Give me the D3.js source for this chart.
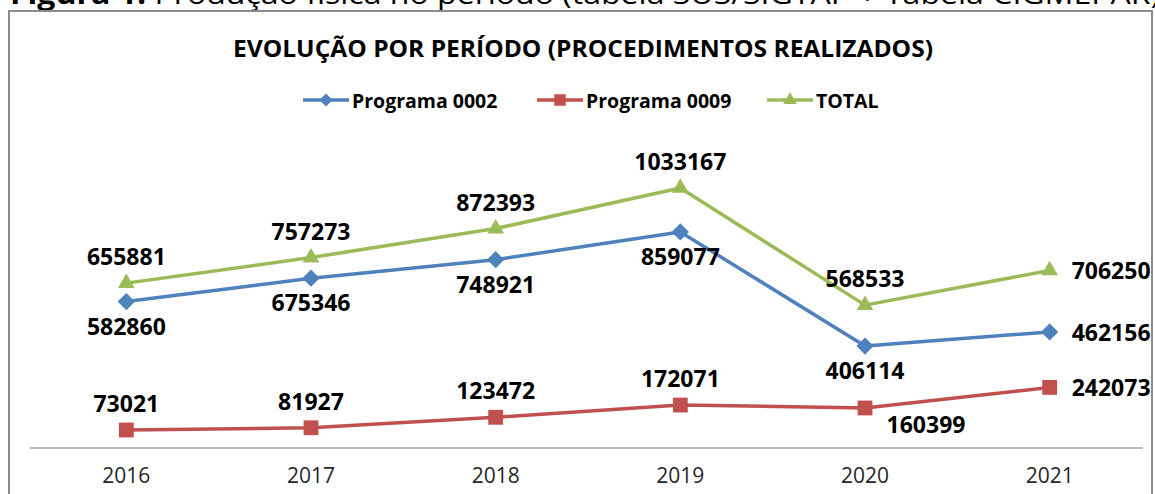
<!DOCTYPE html>
<html>
<head>
<meta charset="utf-8">
<script src="https://cdn.jsdelivr.net/npm/d3@7"></script>
<style>
  body { margin: 0; background: #fff; }
  svg { display: block; }
  text { font-family: "Open Sans", sans-serif; }
</style>
</head>
<body>
<svg id="chart"></svg>
<script>
// Values
const years = ['2016', '2017', '2018', '2019', '2020', '2021'];
const programa0002 = [582860, 675346, 748921, 859077, 406114, 462156];
const programa0009 = [73021, 81927, 123472, 172071, 160399, 242073];
const total = [655881, 757273, 872393, 1033167, 568533, 706250];
const seriesNames = ['Programa 0002', 'Programa 0009', 'TOTAL'];

const width = 1155, height = 494;

const svg = d3.select('#chart')
    .attr('width', width)
    .attr('height', height);

// Caption of the document (only the lower part is visible)
const caption = svg.append('text')
    .attr('x', 10)
    .attr('y', 4)
    .attr('font-family', '"Liberation Sans", Arial, sans-serif')
    .attr('font-size', 28)
    .attr('fill', '#000')
    .attr('textLength', 1150)
    .attr('lengthAdjust', 'spacingAndGlyphs');
caption.append('tspan').attr('font-weight', 'bold').text('Figura 1: ');
caption.append('tspan').text('Produção física no período (tabela SUS/SIGTAP + Tabela CIGMEPAR)');

// Chart frame
svg.append('rect')
    .attr('x', 9)
    .attr('y', 11)
    .attr('width', 1143)
    .attr('height', 500)
    .attr('fill', '#fff')
    .attr('stroke', '#8c8c8c')
    .attr('stroke-width', 2);

// Title
svg.append('text')
    .attr('x', 583)
    .attr('y', 48)
    .attr('text-anchor', 'middle')
    .attr('dominant-baseline', 'central')
    .attr('font-weight', 'bold')
    .attr('font-size', 23)
    .attr('fill', '#000')
    .attr('textLength', 700)
    .attr('lengthAdjust', 'spacingAndGlyphs')
    .text('EVOLUÇÃO POR PERÍODO (PROCEDIMENTOS REALIZADOS)');

// Scales
const xScale = d3.scaleBand()
    .domain(years)
    .range([34, 1142])
    .padding(0);
const xc = d => xScale(d) + xScale.bandwidth() / 2;

const yScale = d3.scaleLinear()
    .domain([0, 1200000])
    .range([448.4, 146]);

// X axis
const xAxis = d3.axisBottom(xScale).tickSize(0).tickPadding(20);
const xAxisG = svg.append('g')
    .attr('class', 'axis x-axis')
    .attr('transform', 'translate(0,448)')
    .call(xAxis);
xAxisG.select('.domain')
    .attr('stroke', '#a6a6a6')
    .attr('stroke-width', 1.5)
    .attr('d', 'M30,0H1143');
xAxisG.selectAll('text')
    .attr('font-family', '"Open Sans", sans-serif')
    .attr('font-size', 21)
    .attr('fill', '#262626');

// Series definitions
const series = [
    { name: seriesNames[0], values: programa0002, color: '#4f81bd', symbol: d3.symbolDiamond2, size: 190,
      labels: ['below', 'below', 'below', 'below', 'below', 'right'] },
    { name: seriesNames[1], values: programa0009, color: '#c0504d', symbol: d3.symbolSquare2, size: 280,
      labels: ['above', 'above', 'above', 'above', 'belowright', 'right'] },
    { name: seriesNames[2], values: total, color: '#9bbb59', symbol: d3.symbolTriangle2, size: 200,
      labels: ['above', 'above', 'above', 'above', 'above', 'right'] }
];

const line = d3.line()
    .x(d => xc(d.year))
    .y(d => yScale(d.value));

series.forEach(s => {
    const pts = years.map((y, i) => ({ year: y, value: s.values[i], pos: s.labels[i] }));
    const g = svg.append('g').attr('class', 'series');

    g.append('path')
        .datum(pts)
        .attr('d', line)
        .attr('fill', 'none')
        .attr('stroke', s.color)
        .attr('stroke-width', 3.5)
        .attr('stroke-linejoin', 'round');

    g.selectAll('.marker')
        .data(pts)
        .join('path')
            .attr('class', 'marker')
            .attr('transform', d => `translate(${xc(d.year)},${yScale(d.value)})`)
            .attr('d', d3.symbol().type(s.symbol).size(s.size))
            .attr('fill', s.color);

    g.selectAll('.label')
        .data(pts)
        .join('text')
            .attr('class', 'label')
            .attr('x', d => {
                if (d.pos === 'right') return xc(d.year) + 22;
                if (d.pos === 'belowright') return xc(d.year) + 61;
                return xc(d.year);
            })
            .attr('y', d => {
                const py = yScale(d.value);
                if (d.pos === 'above') return py - 27;
                if (d.pos === 'below') return py + 24;
                if (d.pos === 'belowright') return py + 16;
                return py;
            })
            .attr('text-anchor', d => d.pos === 'right' ? 'start' : 'middle')
            .attr('dominant-baseline', 'central')
            .attr('font-weight', 'bold')
            .attr('font-size', 23)
            .attr('fill', '#000')
            .text(d => d.value);
});

// Legend
const legendItems = [
    { name: seriesNames[0], x: 303, color: '#4f81bd', symbol: d3.symbolDiamond2, size: 110 },
    { name: seriesNames[1], x: 537, color: '#c0504d', symbol: d3.symbolSquare2, size: 170 },
    { name: seriesNames[2], x: 767, color: '#9bbb59', symbol: d3.symbolTriangle2, size: 130 }
];
const legend = svg.append('g').attr('class', 'legend');
legendItems.forEach(l => {
    const lg = legend.append('g').attr('transform', `translate(${l.x},100)`);
    lg.append('line')
        .attr('x1', 0).attr('x2', 46)
        .attr('stroke', l.color)
        .attr('stroke-width', 3.5);
    lg.append('path')
        .attr('transform', 'translate(23,0)')
        .attr('d', d3.symbol().type(l.symbol).size(l.size))
        .attr('fill', l.color);
    lg.append('text')
        .attr('x', 49)
        .attr('dominant-baseline', 'central')
        .attr('font-weight', 'bold')
        .attr('font-size', 19.5)
        .attr('fill', '#000')
        .text(l.name);
});
</script>
</body>
</html>
